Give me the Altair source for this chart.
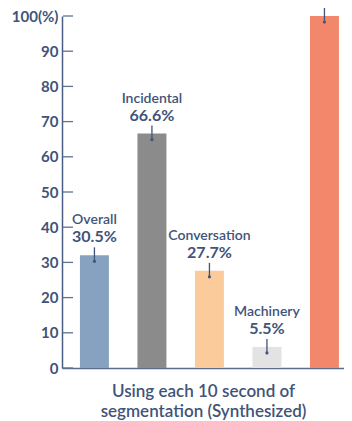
import altair as alt
import pandas as pd

categories = ["Overall", "Incidental", "Conversation", "Machinery", "Total"]
bar_values = [32.0, 66.6, 27.6, 6.0, 100.0]
label_names = ["Overall", "Incidental", "Conversation", "Machinery", "Total"]
label_pcts = ["30.5%", "66.6%", "27.7%", "5.5%", "100%"]
bar_colors = ["#87a2c0", "#8b8b8b", "#fccb9c", "#e3e3e3", "#f2876c"]
tick_values = [0, 10, 20, 30, 40, 50, 60, 70, 80, 90, 100]
x_title = ["Using each 10 second of", "segmentation (Synthesized)"]

TEXT = "#3f5479"
FONT = "Lato"

df = pd.DataFrame({"cat": categories, "value": bar_values,
                   "name": label_names, "pct": label_pcts})
ticks = pd.DataFrame({"t": tick_values})

xscale = alt.Scale(domain=categories, paddingInner=0.496, paddingOuter=0.2, align=0.78)
yscale = alt.Scale(domain=[0, 100], nice=False)

x_enc = alt.X("cat:N", scale=xscale, sort=categories,
              axis=alt.Axis(title=x_title, labels=False, ticks=False,
                            domainColor="#5a6d90", domainWidth=1.5,
                            titleFont=FONT, titleFontSize=17, titleFontWeight=600,
                            titleColor=TEXT, titlePadding=15, titleLineHeight=20,
                            titleBaseline="top"))
y_axis = alt.Axis(title=None, values=tick_values, ticks=False,
                  labelExpr="datum.value == 100 ? '100(%)' : datum.label",
                  labelFont=FONT, labelFontSize=15, labelFontWeight="bold",
                  labelColor=TEXT, labelPadding=4,
                  domainColor="#4a5d82", domainWidth=1.5, grid=False)
y_enc = alt.Y("value:Q", scale=yscale, axis=y_axis)

bars = alt.Chart(df).mark_bar().encode(
    x=x_enc, y=y_enc,
    color=alt.Color("cat:N", scale=alt.Scale(domain=categories, range=bar_colors),
                    legend=None),
)

arrows = alt.Chart(df).mark_rule(color=TEXT, strokeWidth=1.3, yOffset=-8, y2Offset=6).encode(
    x=x_enc, y=y_enc, y2="value:Q",
)

dots = alt.Chart(df).mark_point(filled=True, color=TEXT, size=10, opacity=1, yOffset=6).encode(
    x=x_enc, y=y_enc,
)

pcts = alt.Chart(df).mark_text(font=FONT, fontSize=16, fontWeight="bold", color=TEXT,
                               dy=-13, baseline="alphabetic").encode(
    x=x_enc, y=y_enc, text="pct:N",
)

names = alt.Chart(df).mark_text(font=FONT, fontSize=14, fontWeight=600, color=TEXT,
                                dy=-31, baseline="alphabetic").encode(
    x=x_enc, y=y_enc, text="name:N",
)

tickmarks = alt.Chart(ticks).mark_rule(color="#5f7195", strokeWidth=1.3).encode(
    x=alt.value(1), x2=alt.value(11),
    y=alt.Y("t:Q", scale=yscale, axis=y_axis),
)

chart = alt.layer(bars, arrows, dots, pcts, names, tickmarks).properties(
    width=282, height=352,
    autosize=alt.AutoSizeParams(type="none"),
    padding={"left": 54, "top": 8, "right": 0, "bottom": 62},
).configure_view(stroke=None)

chart.save("out.html", embed_options={"renderer": "svg", "actions": False})
